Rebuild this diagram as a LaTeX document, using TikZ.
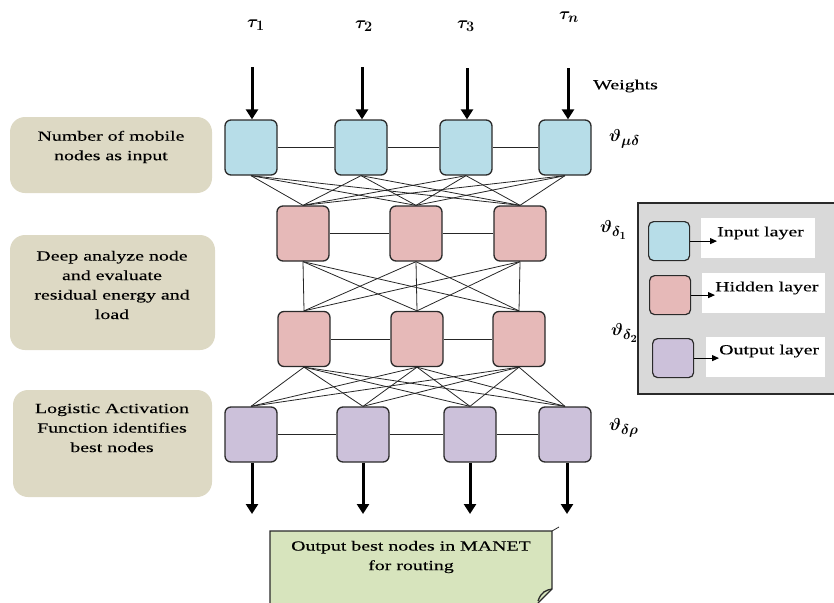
\documentclass[tikz,border=0pt]{standalone}
\usepackage{amsmath,bm}
\usepackage{fontspec}
\setmainfont{Liberation Serif}[FakeStretch=1.42,FakeBold=0.15]
\DeclareMathSizes{18}{18}{14}{11}
\usetikzlibrary{arrows.meta}
\definecolor{inblue}{HTML}{B7DDE8}
\definecolor{hidred}{HTML}{E6B9B8}
\definecolor{outpur}{HTML}{CCC1DA}
\definecolor{beige}{HTML}{DDD9C4}
\definecolor{notegreen}{HTML}{D7E4BD}
\definecolor{leggray}{HTML}{D9D9D9}
\definecolor{edge}{HTML}{2A2A2A}
\tikzset{
  neuron/.style={draw=edge, line width=1.3pt, rounded corners=6pt, minimum width=52pt, minimum height=55pt, inner sep=0pt},
  inbox/.style={neuron, fill=inblue},
  hidbox/.style={neuron, fill=hidred},
  outbox/.style={neuron, fill=outpur},
  link/.style={draw=black!85, line width=0.8pt},
  bigarrow/.style={line width=3pt, -{Triangle[width=12pt,length=10pt]}},
  smallarrow/.style={line width=1pt, -{Triangle[width=6pt,length=7pt]}},
  sidetext/.style={align=center, font=\fontsize{14}{19.5}\selectfont},
  legbox/.style={draw=edge, line width=1.2pt, rounded corners=5pt, minimum width=41pt, minimum height=39pt, inner sep=0pt},
  legtxt/.style={font=\fontsize{14}{17}\selectfont, anchor=west, inner sep=0pt},
  mathlbl/.style={font=\fontsize{18}{20}\selectfont, inner sep=0pt}
}
\begin{document}
\begin{tikzpicture}[x=1pt,y=-1pt]
\useasboundingbox (0,0) rectangle (834,602);

% left description boxes
\fill[beige, rounded corners=15pt] (10,117) rectangle (212,193);
\fill[beige, rounded corners=15pt] (10,235) rectangle (215,350);
\fill[beige, rounded corners=15pt] (13,390) rectangle (212,497);
\node[sidetext] (d1) at (111,147) {Number of mobile\\nodes as input};
\node[sidetext] (d2) at (112,285) {Deep analyze node\\and evaluate\\residual energy and\\load};
\node[sidetext] (d3) at (112,428) {Logistic Activation\\Function identifies\\best nodes};

% neurons
\node[inbox] (i1) at (251,147.5) {};
\node[inbox] (i2) at (361,147.5) {};
\node[inbox] (i3) at (466,147.5) {};
\node[inbox] (i4) at (565,147.5) {};
\node[hidbox] (h1) at (303,233.5) {};
\node[hidbox] (h2) at (416,233.5) {};
\node[hidbox] (h3) at (520,233.5) {};
\node[hidbox] (g1) at (304,339) {};
\node[hidbox] (g2) at (417,339) {};
\node[hidbox] (g3) at (519,339) {};
\node[outbox] (o1) at (251,434.5) {};
\node[outbox] (o2) at (363,434.5) {};
\node[outbox] (o3) at (470,434.5) {};
\node[outbox] (o4) at (565,434.5) {};

% horizontal links
\draw[link] (i1) -- (i2) (i2) -- (i3) (i3) -- (i4);
\draw[link] (h1) -- (h2) (h2) -- (h3);
\draw[link] (g1) -- (g2) (g2) -- (g3);
\draw[link] (o1) -- (o2) (o2) -- (o3) (o3) -- (o4);

% full connections
\foreach \a in {i1,i2,i3,i4}{\foreach \b in {h1,h2,h3}{\draw[link] (\a.south) -- (\b.north);}}
\foreach \a in {h1,h2,h3}{\foreach \b in {g1,g2,g3}{\draw[link] (\a.south) -- (\b.north);}}
\foreach \a in {g1,g2,g3}{\foreach \b in {o1,o2,o3,o4}{\draw[link] (\a.south) -- (\b.north);}}

% input arrows and labels
\coordinate (a1) at (252,67);
\coordinate (a2) at (362,67);
\coordinate (a3) at (467,68);
\coordinate (a4) at (568,68);
\draw[bigarrow] (a1) -- (a1 |- i1.north);
\draw[bigarrow] (a2) -- (a2 |- i2.north);
\draw[bigarrow] (a3) -- (a3 |- i3.north);
\draw[bigarrow] (a4) -- (a4 |- i4.north);
\node[mathlbl] (t1) at (256,25) {$\bm{\tau_1}$};
\node[mathlbl] (t2) at (364,26) {$\bm{\tau_2}$};
\node[mathlbl] (t3) at (466,26) {$\bm{\tau_3}$};
\node[mathlbl] (tn) at (569,17) {$\bm{\tau_n}$};
\node[legtxt] (w) at (593,86) {Weights};

% output arrows
\coordinate (b1) at (252,514);
\coordinate (b2) at (363,514);
\coordinate (b3) at (470,514);
\coordinate (b4) at (567,514);
\draw[bigarrow] (b1 |- o1.south) -- (b1);
\draw[bigarrow] (b2 |- o2.south) -- (b2);
\draw[bigarrow] (b3 |- o3.south) -- (b3);
\draw[bigarrow] (b4 |- o4.south) -- (b4);

% theta labels
\node[mathlbl, anchor=west] (v1) at (609,139) {$\bm{\vartheta_{\mu\delta}}$};
\node[mathlbl, anchor=west] (v2) at (600,230) {$\bm{\vartheta_{\delta_1}}$};
\node[mathlbl, anchor=west] (v3) at (611,333) {$\bm{\vartheta_{\delta_2}}$};
\node[mathlbl, anchor=west] (v4) at (609,428) {$\bm{\vartheta_{\delta\rho}}$};

% legend
\filldraw[fill=leggray, draw=edge, line width=1.3pt] (835,203) -- (638,203) -- (638,394) -- (835,394);
\node[legbox, fill=inblue, anchor=north west] (li) at (648,221) {};
\node[legbox, fill=hidred, anchor=north west] (lh) at (649,275) {};
\node[legbox, fill=outpur, anchor=north west] (lo) at (652,338) {};
\fill[white] (701,218) rectangle (815,258);
\fill[white] (702,273) rectangle (825,313);
\fill[white] (706,337) rectangle (825,377);
\node[legtxt] (lti) at (717,233) {Input layer};
\node[legtxt] (lth) at (715,288) {Hidden layer};
\node[legtxt] (lto) at (719,351) {Output layer};
\draw[smallarrow] (li.east) -- (lti.west |- li.east);
\draw[smallarrow] (lh.east) -- (lth.west |- lh.east);
\draw[smallarrow] (lo.east) -- (lto.west |- lo.east);

% output note
\filldraw[fill=notegreen, draw=edge, line width=1.3pt]
  (270,603) -- (270,531) -- (552,531) -- (552,589) -- (538,603);
\draw[edge, line width=1.3pt] (552,589) .. controls (546,590) and (541,592) .. (538,601);
\draw[edge, line width=0.8pt] (552,531) -- (559,527);
\node[sidetext] (note) at (411,557) {Output best nodes in MANET\\for routing};
\end{tikzpicture}
\end{document}
